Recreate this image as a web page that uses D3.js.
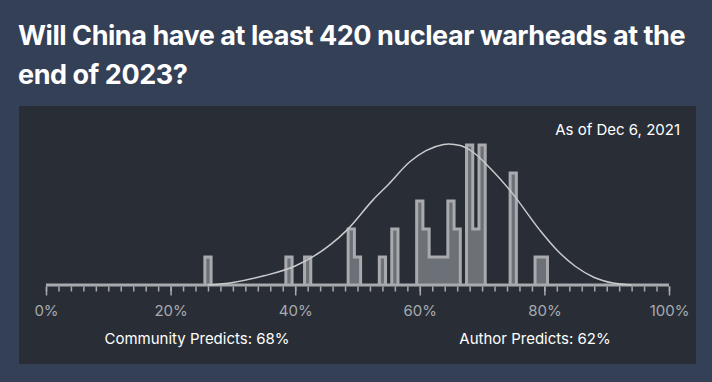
<!DOCTYPE html>
<html>
<head>
<meta charset="utf-8">
<script src="https://cdn.jsdelivr.net/npm/d3@7"></script>
<style>
  html, body { margin: 0; padding: 0; background: #344056; }
  svg { display: block; }
</style>
</head>
<body>
<svg id="chart" width="712" height="382"></svg>
<script>
// ---- data ----
const titleLines = ["Will China have at least 420 nuclear warheads at the", "end of 2023?"];
const asOfLabel = "As of Dec 6, 2021";
const communityLabel = "Community Predicts: 68%";
const authorLabel = "Author Predicts: 62%";

// histogram of individual predictions: percentage bin -> number of forecasters
const binPct   = [26, 39, 42, 49, 50, 54, 56, 60, 61, 62, 63, 64, 65, 66, 68, 69, 70, 75, 79, 80];
const binCount = [ 1,  1,  1,  2,  1,  1,  2,  3,  2,  1,  1,  1,  3,  2,  5,  2,  5,  4,  1,  1];

// smooth community distribution curve (same vertical units as the histogram)
const curvePct = [26, 30, 35, 40, 45.6, 48.3, 52.5, 55, 58.4, 61, 63.8, 64.6, 66.5, 68.5, 71.3, 74.8, 79.3, 82, 85, 88, 91, 94];
const curveVal = [0, 0.09, 0.33, 0.68, 1.43, 1.96, 3.04, 3.6, 4.4, 4.8, 5.02, 5.04, 4.98, 4.75, 4.17, 3.29, 1.95, 1.25, 0.66, 0.27, 0.07, 0];

const tickMajor = [0, 20, 40, 60, 80, 100];

// ---- drawing ----
const svg = d3.select("#chart");
const W = 712, H = 382;

svg.append("rect").attr("width", W).attr("height", H).attr("fill", "#344056");

// title
const title = svg.append("text")
  .attr("font-family", "Inter, 'Noto Sans', sans-serif")
  .attr("font-weight", 700)
  .attr("font-size", 27)
  .attr("fill", "#ffffff")
  .attr("letter-spacing", "-0.45");
titleLines.forEach((t, i) => {
  title.append("tspan").attr("x", 18).attr("y", 45 + i * 39).text(t);
});

// panel
svg.append("rect")
  .attr("x", 19).attr("y", 106).attr("width", 677).attr("height", 258)
  .attr("fill", "#292e36");

const x = d3.scaleLinear().domain([0, 100]).range([46, 669]);
const y = d3.scaleLinear().domain([0, 5]).range([285, 145]);

// full count array for 0..100
const counts = new Array(101).fill(0);
binPct.forEach((p, i) => { counts[p] = binCount[i]; });

const stepPts = [[0, counts[0]]];
for (let i = 1; i <= 100; i++) stepPts.push([i - 0.5, counts[i]]);
stepPts.push([100, counts[100]]);

const area = d3.area()
  .x(d => x(d[0]))
  .y0(y(0))
  .y1(d => y(d[1]))
  .curve(d3.curveStepAfter);

svg.append("path")
  .datum(stepPts)
  .attr("d", area)
  .attr("fill", "#6c7077")
  .attr("stroke", "#a8aaae")
  .attr("stroke-width", 3)
  .attr("stroke-linejoin", "miter");

// axis ticks
const minorAxis = d3.axisBottom(x)
  .tickValues(d3.range(0, 101, 2))
  .tickSize(5)
  .tickFormat("");
const gMinor = svg.append("g").attr("transform", `translate(0,${y(0) + 1.5})`).call(minorAxis);
gMinor.select(".domain").remove();
gMinor.selectAll("line").attr("stroke", "#a8aaae").attr("stroke-width", 1.5);

const majorAxis = d3.axisBottom(x)
  .tickValues(tickMajor)
  .tickSize(9)
  .tickPadding(10)
  .tickFormat(d => d + "%");
const gMajor = svg.append("g").attr("transform", `translate(0,${y(0) + 1.5})`).call(majorAxis);
gMajor.select(".domain").remove();
gMajor.selectAll("line").attr("stroke", "#a8aaae").attr("stroke-width", 1.5);
gMajor.selectAll("text")
  .attr("fill", "#a8aaae")
  .attr("font-family", "Inter, 'Noto Sans', sans-serif")
  .attr("font-size", 15);

// community curve
const line = d3.line()
  .x((d, i) => x(curvePct[i]))
  .y(d => y(d))
  .curve(d3.curveMonotoneX);
svg.append("path")
  .datum(curveVal)
  .attr("d", line)
  .attr("fill", "none")
  .attr("stroke", "#c9cacc")
  .attr("stroke-width", 1.5);

// labels
const lblFont = "Inter, 'Noto Sans', sans-serif";
svg.append("text")
  .attr("x", 680).attr("y", 135)
  .attr("text-anchor", "end")
  .attr("font-family", lblFont).attr("font-size", 15)
  .attr("fill", "#ffffff")
  .text(asOfLabel);

svg.append("text")
  .attr("x", 197).attr("y", 344)
  .attr("text-anchor", "middle")
  .attr("font-family", lblFont).attr("font-size", 15)
  .attr("fill", "#ffffff")
  .text(communityLabel);

svg.append("text")
  .attr("x", 535).attr("y", 344)
  .attr("text-anchor", "middle")
  .attr("font-family", lblFont).attr("font-size", 15)
  .attr("fill", "#ffffff")
  .text(authorLabel);
</script>
</body>
</html>
